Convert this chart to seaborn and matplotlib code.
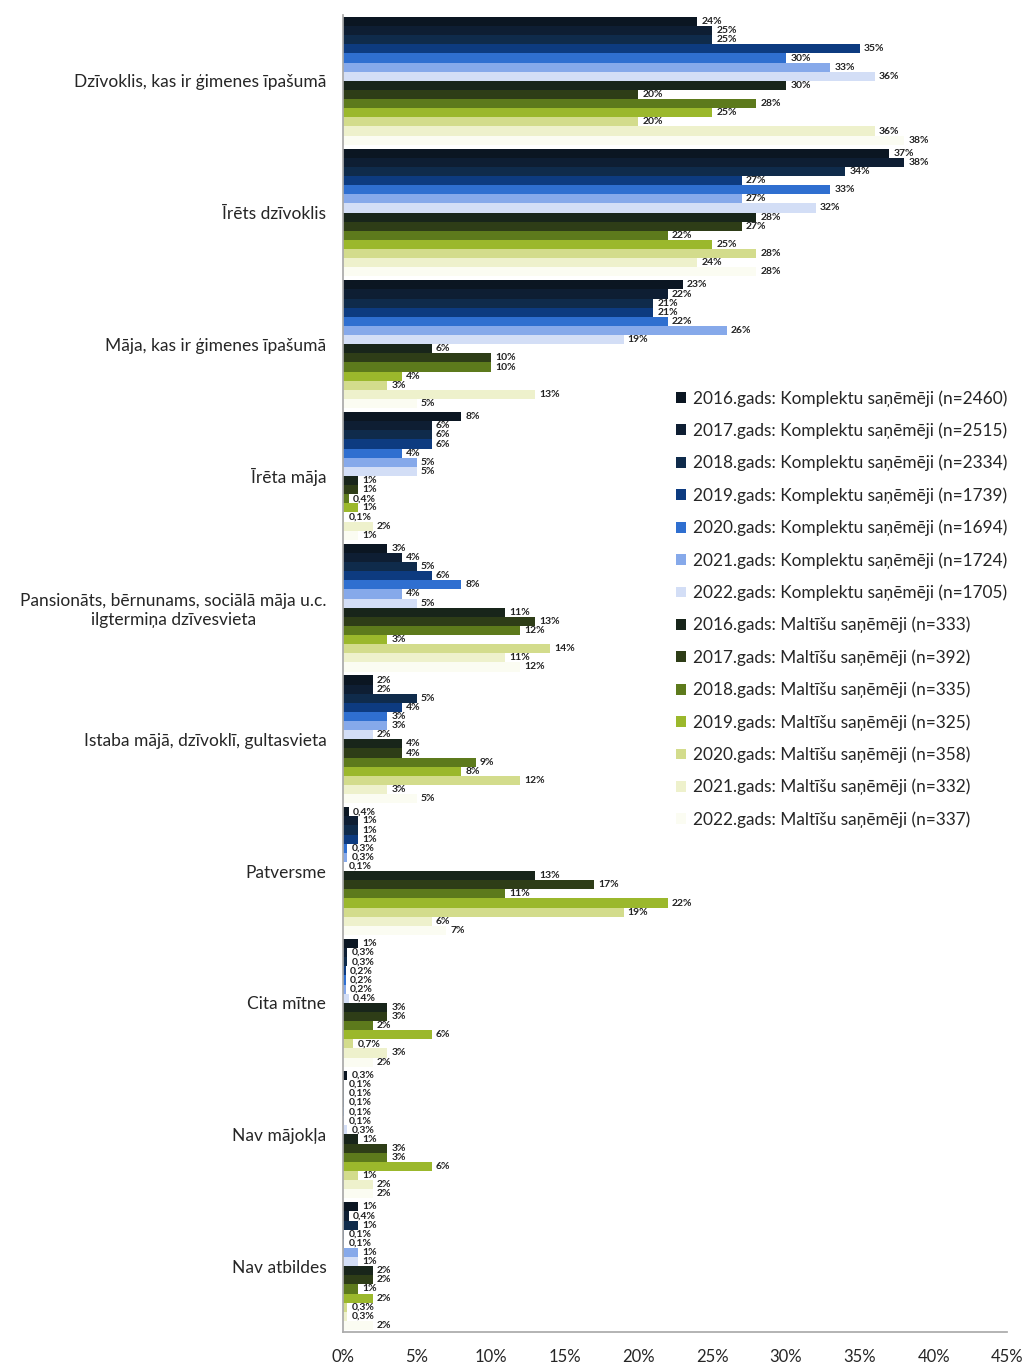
import pandas as pd
import numpy as np
import matplotlib
matplotlib.use("Agg")
import matplotlib.pyplot as plt
import seaborn as sns

# categories (y axis)
categories = [
    "Dzīvoklis, kas ir ģimenes īpašumā",
    "Īrēts dzīvoklis",
    "Māja, kas ir ģimenes īpašumā",
    "Īrēta māja",
    "Pansionāts, bērnunams, sociālā māja u.c.\nilgtermiņa dzīvesvieta",
    "Istaba mājā, dzīvoklī, gultasvieta",
    "Patversme",
    "Cita mītne",
    "Nav mājokļa",
    "Nav atbildes",
]

# series names (legend)
series = [
    "2016.gads: Komplektu saņēmēji (n=2460)",
    "2017.gads: Komplektu saņēmēji (n=2515)",
    "2018.gads: Komplektu saņēmēji (n=2334)",
    "2019.gads: Komplektu saņēmēji (n=1739)",
    "2020.gads: Komplektu saņēmēji (n=1694)",
    "2021.gads: Komplektu saņēmēji (n=1724)",
    "2022.gads: Komplektu saņēmēji (n=1705)",
    "2016.gads: Maltīšu saņēmēji (n=333)",
    "2017.gads: Maltīšu saņēmēji (n=392)",
    "2018.gads: Maltīšu saņēmēji (n=335)",
    "2019.gads: Maltīšu saņēmēji (n=325)",
    "2020.gads: Maltīšu saņēmēji (n=358)",
    "2021.gads: Maltīšu saņēmēji (n=332)",
    "2022.gads: Maltīšu saņēmēji (n=337)",
]

# values in %, one list per series, in category order
k2016 = [24, 37, 23, 8, 3, 2, 0.4, 1, 0.3, 1]
k2017 = [25, 38, 22, 6, 4, 2, 1, 0.3, 0.1, 0.4]
k2018 = [25, 34, 21, 6, 5, 5, 1, 0.3, 0.1, 1]
k2019 = [35, 27, 21, 6, 6, 4, 1, 0.2, 0.1, 0.1]
k2020 = [30, 33, 22, 4, 8, 3, 0.3, 0.2, 0.1, 0.1]
k2021 = [33, 27, 26, 5, 4, 3, 0.3, 0.2, 0.1, 1]
k2022 = [36, 32, 19, 5, 5, 2, 0.1, 0.4, 0.3, 1]
m2016 = [30, 28, 6, 1, 11, 4, 13, 3, 1, 2]
m2017 = [20, 27, 10, 1, 13, 4, 17, 3, 3, 2]
m2018 = [28, 22, 10, 0.4, 12, 9, 11, 2, 3, 1]
m2019 = [25, 25, 4, 1, 3, 8, 22, 6, 6, 2]
m2020 = [20, 28, 3, 0.1, 14, 12, 19, 0.7, 1, 0.3]
m2021 = [36, 24, 13, 2, 11, 3, 6, 3, 2, 0.3]
m2022 = [38, 28, 5, 1, 12, 5, 7, 2, 2, 2]

values = [k2016, k2017, k2018, k2019, k2020, k2021, k2022,
          m2016, m2017, m2018, m2019, m2020, m2021, m2022]

colors = ["#0b1622", "#0e1e33", "#0f2b4b", "#0d3b80", "#2f6fd0", "#86a9ea", "#d3def6",
          "#18251a", "#2e3d17", "#5d7a1c", "#9bb82c", "#d3dc8c", "#eef1cc", "#fbfcf2"]

rows = []
for s, vals in zip(series, values):
    for c, v in zip(categories, vals):
        rows.append({"category": c, "series": s, "value": v})
df = pd.DataFrame(rows)

sns.set_theme(style="white")
plt.rcParams["font.family"] = ["Lato", "DejaVu Sans"]

fig = plt.figure(figsize=(10.27, 13.62), dpi=100)
ax = fig.add_axes([0.334, 0.022, 0.647, 0.967])

sns.barplot(data=df, x="value", y="category", hue="series", order=categories,
            hue_order=series, palette=colors, saturation=1, width=0.97,
            orient="h", linewidth=0, ax=ax)

def fmt(v):
    if float(v).is_integer():
        return f"{int(v)}%"
    return f"{v}".replace(".", ",") + "%"

for cont, vals in zip(ax.containers, values):
    ax.bar_label(cont, labels=[fmt(v) for v in vals], padding=3,
                 fontsize=7.5, fontweight="bold", color="#222222")

ax.set_xlim(0, 45)
ax.set_xticks(np.arange(0, 46, 5))
ax.set_xticklabels([f"{t}%" for t in range(0, 46, 5)], fontsize=12)
ax.set_xlabel("")
ax.set_ylabel("")
ax.tick_params(axis="y", length=0, labelsize=12.5, pad=12)
ax.tick_params(axis="x", length=4, color="#aaaaaa", direction="out", pad=8)
for t in ax.get_yticklabels():
    t.set_horizontalalignment("right")
    t.set_multialignment("center")

sns.despine(ax=ax)
ax.spines["left"].set_color("#aaaaaa")
ax.spines["bottom"].set_color("#aaaaaa")

handles, labels = ax.get_legend_handles_labels()
ax.legend(handles, labels, loc="upper left", bbox_to_anchor=(0.643, 0.725),
          bbox_transform=fig.transFigure, frameon=False, fontsize=12.4,
          handlelength=0.6, handleheight=0.6, handletextpad=0.4,
          labelspacing=0.92)

plt.savefig("out.png", dpi=100)
